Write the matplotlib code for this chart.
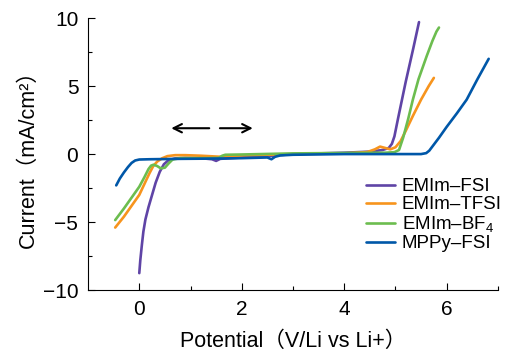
import matplotlib
matplotlib.use("Agg")
import matplotlib.pyplot as plt

plt.rcParams['font.family'] = ['Liberation Sans', 'Noto Sans CJK JP', 'DejaVu Sans']
plt.rcParams['mathtext.fontset'] = 'custom'
plt.rcParams['mathtext.rm'] = 'Liberation Sans'
plt.rcParams['mathtext.default'] = 'rm'

# EMIm-FSI
fsi_x = [0.0, 0.02, 0.05, 0.08, 0.12, 0.18, 0.25, 0.32, 0.4, 0.48, 0.57, 0.7, 0.9, 1.2, 1.42, 1.5, 1.58, 2.0, 2.6, 3.0, 3.5, 4.0, 4.5, 4.75, 4.87, 4.93, 4.98, 5.05, 5.2, 5.35, 5.46]
fsi_y = [-8.75, -7.8, -6.7, -5.7, -4.8, -3.9, -3.0, -2.1, -1.3, -0.75, -0.45, -0.32, -0.28, -0.3, -0.38, -0.5, -0.35, -0.25, -0.12, 0.0, 0.05, 0.1, 0.18, 0.3, 0.45, 0.75, 1.3, 2.6, 5.3, 7.8, 9.7]

# EMIm-TFSI
tfsi_x = [-0.47, -0.3, -0.15, 0.0, 0.1, 0.2, 0.27, 0.35, 0.45, 0.55, 0.7, 0.9, 1.2, 1.6, 2.0, 3.0, 4.0, 4.45, 4.6, 4.7, 4.8, 4.9, 5.0, 5.1, 5.2, 5.34, 5.5, 5.65, 5.75]
tfsi_y = [-5.4, -4.6, -3.8, -3.0, -2.2, -1.4, -0.9, -0.55, -0.3, -0.15, -0.08, -0.08, -0.12, -0.2, -0.1, 0.0, 0.05, 0.15, 0.35, 0.55, 0.45, 0.35, 0.5, 0.95, 1.7, 2.8, 4.0, 5.0, 5.6]

# EMIm-BF4
bf4_x = [-0.47, -0.3, -0.15, 0.0, 0.1, 0.18, 0.23, 0.28, 0.35, 0.42, 0.5, 0.57, 0.65, 0.8, 1.0, 1.3, 1.55, 1.62, 1.68, 2.0, 3.0, 4.0, 4.8, 4.98, 5.07, 5.15, 5.25, 5.34, 5.45, 5.61, 5.72, 5.8, 5.85]
bf4_y = [-4.85, -4.0, -3.2, -2.4, -1.7, -1.1, -0.85, -0.78, -0.88, -1.05, -1.0, -0.7, -0.4, -0.3, -0.3, -0.3, -0.28, -0.12, -0.05, -0.03, 0.05, 0.08, 0.1, 0.14, 0.3, 1.2, 2.6, 4.0, 5.5, 7.2, 8.3, 9.0, 9.3]

# MPPy-FSI
mppy_x = [-0.45, -0.38, -0.3, -0.22, -0.15, -0.08, 0.0, 0.2, 0.8, 1.5, 2.0, 2.5, 2.58, 2.65, 2.75, 3.0, 4.0, 5.0, 5.5, 5.6, 5.66, 5.73, 5.85, 6.0, 6.2, 6.39, 6.6, 6.82]
mppy_y = [-2.3, -1.8, -1.35, -0.95, -0.65, -0.47, -0.4, -0.38, -0.35, -0.33, -0.3, -0.25, -0.38, -0.2, -0.1, -0.05, 0.0, 0.0, 0.0, 0.07, 0.25, 0.6, 1.2, 2.0, 3.0, 4.0, 5.5, 7.0]

series = [
    ('EMIm–FSI', fsi_x, fsi_y, '#5f44a6'),
    ('EMIm–TFSI', tfsi_x, tfsi_y, '#f7941d'),
    ('EMIm–BF$_4$', bf4_x, bf4_y, '#6cbd4f'),
    ('MPPy–FSI', mppy_x, mppy_y, '#0057a8'),
]

fig = plt.figure(figsize=(5.06, 3.6), dpi=100)
ax = fig.add_axes([0.174, 0.194, 0.81, 0.756])

for name, xs, ys, c in series:
    ax.plot(xs, ys, color=c, lw=1.9, label=name, solid_capstyle='round', solid_joinstyle='round')

ax.set_xlim(-1, 7)
ax.set_ylim(-10, 10)
ax.set_xticks([0, 2, 4, 6])
ax.set_xticks([1, 3, 5, 7], minor=True)
ax.set_yticks([-10, -5, 0, 5, 10])
ax.set_yticks([-7.5, -2.5, 2.5, 7.5], minor=True)
ax.tick_params(direction='in', labelsize=15, length=5, width=0.8, pad=7)
ax.tick_params(which='minor', direction='in', length=3, width=0.8)
for s in ['top', 'right']:
    ax.spines[s].set_visible(False)

ax.set_xlabel('Potential（V/Li vs Li+）', fontsize=15.5, labelpad=9)
ax.set_ylabel('Current（mA/cm²）', fontsize=15.5, labelpad=3)

ax.annotate('', xy=(0.57, 1.9), xytext=(1.42, 1.9),
            arrowprops=dict(arrowstyle='->,head_length=0.6,head_width=0.3', lw=1.5, color='black'))
ax.annotate('', xy=(2.27, 1.9), xytext=(1.52, 1.9),
            arrowprops=dict(arrowstyle='->,head_length=0.6,head_width=0.3', lw=1.5, color='black'))

ax.legend(loc='upper left', bbox_to_anchor=(366 / 506, 1 - 178 / 360),
          bbox_transform=fig.transFigure, frameon=False, fontsize=13.5,
          borderpad=0, borderaxespad=0, handlelength=1.55, handletextpad=0.35,
          labelspacing=0.05)

fig.savefig('out.png', dpi=100)
